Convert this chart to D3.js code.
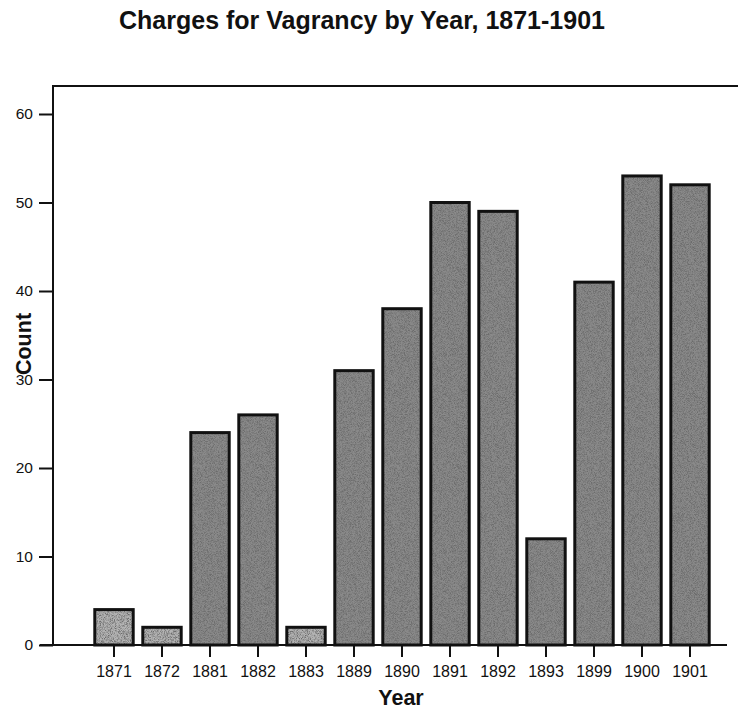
<!DOCTYPE html>
<html>
<head>
<meta charset="utf-8">
<script src="https://d3js.org/d3.v7.min.js"></script>
<style>
  html, body { margin: 0; padding: 0; background: #fff; }
  svg { display: block; }
  text { font-family: "Liberation Sans", Arial, sans-serif; fill: #111; }
</style>
</head>
<body>
<svg id="chart" width="740" height="710"></svg>
<script>
const years = ["1871","1872","1881","1882","1883","1889","1890","1891","1892","1893","1899","1900","1901"];
const counts = [4, 2, 24, 26, 2, 31, 38, 50, 49, 12, 41, 53, 52];
const yTicks = [0, 10, 20, 30, 40, 50, 60];
const titleText = "Charges for Vagrancy by Year, 1871-1901";
const xTitle = "Year";
const yTitle = "Count";

const svg = d3.select("#chart");
const plot = { left: 53, top: 86, right: 738, bottom: 645 };

const x = d3.scaleBand().domain(years).range([90, 714]).paddingInner(0.2).paddingOuter(0.1);
const y = d3.scaleLinear().domain([0, 60]).range([645, 114]);

// noise texture filter
const defs = svg.append("defs");
const f = defs.append("filter").attr("id", "grain").attr("x", 0).attr("y", 0).attr("width", 1).attr("height", 1);
f.append("feTurbulence").attr("type", "fractalNoise").attr("baseFrequency", 1.3).attr("numOctaves", 2).attr("seed", 5).attr("result", "noise");
f.append("feColorMatrix").attr("in", "noise").attr("type", "matrix")
  .attr("values", "0 0 0 0 0.15  0 0 0 0 0.15  0 0 0 0 0.15  2.6 0 0 0 -0.95").attr("result", "grain");
f.append("feComposite").attr("in", "grain").attr("in2", "SourceGraphic").attr("operator", "atop");

// frame: top and left
svg.append("line").attr("x1", plot.left).attr("x2", plot.right).attr("y1", plot.top).attr("y2", plot.top)
  .attr("stroke", "#111").attr("stroke-width", 2);

// Title
svg.append("text").attr("x", 362).attr("y", 29).attr("text-anchor", "middle")
  .attr("font-size", 25).attr("font-weight", "bold").text(titleText);

// Y axis
const yAxis = d3.axisLeft(y).tickValues(yTicks).tickSize(14).tickPadding(6).tickFormat(d3.format("d"));
const gy = svg.append("g").attr("transform", `translate(${plot.left},0)`).call(yAxis);
gy.select(".domain").remove();
gy.selectAll(".tick line").attr("stroke", "#111").attr("stroke-width", 2);
gy.selectAll(".tick text").attr("font-size", 15.5).attr("fill", "#111")
  .attr("font-family", "'Liberation Sans', Arial, sans-serif");
svg.append("line").attr("x1", plot.left).attr("x2", plot.left).attr("y1", plot.top - 1).attr("y2", plot.bottom)
  .attr("stroke", "#111").attr("stroke-width", 2);

// Bars
svg.append("g").selectAll("rect").data(years).join("rect")
  .attr("x", d => x(d))
  .attr("y", (d, i) => y(counts[i]))
  .attr("width", x.bandwidth())
  .attr("height", (d, i) => y(0) - y(counts[i]))
  .attr("fill", (d, i) => counts[i] < 5 ? "#b4b4b4" : "#8a8a8a")
  .attr("filter", "url(#grain)");
svg.append("g").selectAll("rect").data(years).join("rect")
  .attr("x", d => x(d))
  .attr("y", (d, i) => y(counts[i]))
  .attr("width", x.bandwidth())
  .attr("height", (d, i) => y(0) - y(counts[i]))
  .attr("fill", "none").attr("stroke", "#111").attr("stroke-width", 3);

// X axis
const xAxis = d3.axisBottom(x).tickSize(12).tickPadding(9);
const gx = svg.append("g").attr("transform", `translate(0,${y(0)})`).call(xAxis);
gx.select(".domain").remove();
gx.selectAll(".tick line").attr("stroke", "#111").attr("stroke-width", 2);
gx.selectAll(".tick text").attr("font-size", 16).attr("fill", "#111")
  .attr("font-family", "'Liberation Sans', Arial, sans-serif");
svg.append("line").attr("x1", 40).attr("x2", 727).attr("y1", y(0)).attr("y2", y(0))
  .attr("stroke", "#111").attr("stroke-width", 2);

// Axis titles
svg.append("text").attr("x", 401).attr("y", 705).attr("text-anchor", "middle")
  .attr("font-size", 21.5).attr("font-weight", "bold").text(xTitle);
svg.append("text").attr("transform", "translate(31,344) rotate(-90)").attr("text-anchor", "middle")
  .attr("font-size", 21.5).attr("font-weight", "bold").text(yTitle);
</script>
</body>
</html>
